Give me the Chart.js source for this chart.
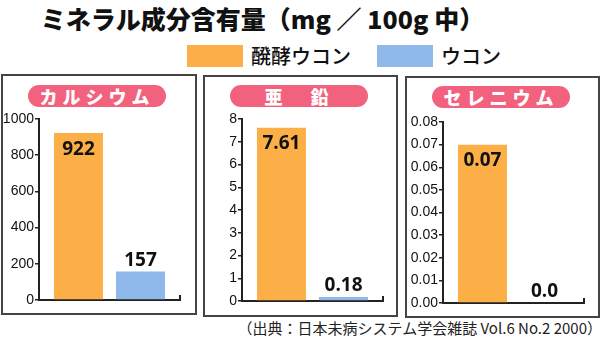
<!DOCTYPE html>
<html>
<head>
<meta charset="utf-8">
<script src="https://cdn.jsdelivr.net/npm/chart.js@4"></script>
<style>
  body { margin: 0; width: 600px; height: 344px; background: #fff; position: relative; overflow: hidden;
         font-family: "Noto Sans CJK JP", sans-serif; }
  .abs { position: absolute; }
  #title { left: 0; width: 525px; top: 1px; text-align: center; font-size: 25px; font-weight: 900; color: #111; line-height: 34px; }
  .swatch { top: 45px; width: 56px; height: 22px; }
  .legtext { top: 42px; font-size: 20px; line-height: 28px; color: #111; font-weight: 500; }
  .panel { border: 2px solid #444; box-sizing: border-box; }
  .pill { background: #F2627E; color: #fff; border-radius: 11px; height: 22px; line-height: 22px; text-align: center;
          font-size: 18px; font-weight: 900; letter-spacing: 5px; }
  #note { right: -2px; top: 317px; font-size: 15px; line-height: 22px; color: #222; }
</style>
</head>
<body>
<div id="title" class="abs">ミネラル成分含有量（mg ／ 100g 中）</div>

<div class="abs swatch" style="left:187px;background:#FCAF46"></div>
<div class="abs legtext" style="left:251px">醗酵ウコン</div>
<div class="abs swatch" style="left:377px;background:#8EB9EA"></div>
<div class="abs legtext" style="left:441px">ウコン</div>

<div id="panels"></div>

<div id="note" class="abs">（出典：日本未病システム学会雑誌 Vol.6 No.2 2000）</div>

<script>
// data
var minerals = ['カルシウム', '亜　鉛', 'セレニウム'];
var seriesNames = ['醗酵ウコン', 'ウコン'];
var fermented = [922, 7.61, 0.07];
var turmeric = [157, 0.18, 0.0];
var fermentedLabels = ['922', '7.61', '0.07'];
var turmericLabels = ['157', '0.18', '0.0'];
var yMax = [1000, 8, 0.08];
var yStep = [200, 1, 0.01];
var yDecimals = [0, 0, 2];

// layout of each panel (page pixels)
var panelBox = [[1, 74, 196, 241], [203, 75, 195, 242], [405, 76, 195, 242]];
var pillBox = [[28, 85, 138], [230, 85, 138], [432, 86, 138]];
var axisX = [39, 242, 443];
var topY = [119, 119, 122];
var zeroY = [300, 301, 303];
var axisEnd = [180, 383, 584];

var ORANGE = '#FCAF46', BLUE = '#8EB9EA', INK = '#222';

// value labels + small end tick on the x axis
var valueLabels = {
  id: 'valueLabels',
  afterDatasetsDraw: function(chart) {
    var c = chart.ctx, i = chart.options.panelIndex;
    c.save();
    c.font = 'bold 19px "Open Sans", sans-serif';
    c.fillStyle = '#111';
    c.textAlign = 'center';
    c.textBaseline = 'middle';
    var b0 = chart.getDatasetMeta(0).data[0];
    var b1 = chart.getDatasetMeta(1).data[0];
    c.fillText(fermentedLabels[i], b0.x, b0.y + 16);
    c.fillText(turmericLabels[i], b1.x, b1.y - 11);
    var a = chart.chartArea;
    c.strokeStyle = INK;
    c.lineWidth = 2;
    c.beginPath();
    c.moveTo(a.right, a.bottom + 1);
    c.lineTo(a.right, a.bottom - 5);
    c.stroke();
    c.restore();
  }
};

var holder = document.getElementById('panels');

minerals.forEach(function(name, i) {
  var p = panelBox[i];
  var panel = document.createElement('div');
  panel.className = 'abs panel';
  panel.style.cssText = 'left:' + p[0] + 'px;top:' + p[1] + 'px;width:' + p[2] + 'px;height:' + p[3] + 'px';
  holder.appendChild(panel);

  var q = pillBox[i];
  var pill = document.createElement('div');
  pill.className = 'abs pill';
  pill.style.cssText = 'left:' + q[0] + 'px;top:' + q[1] + 'px;width:' + q[2] + 'px';
  pill.textContent = name;
  holder.appendChild(pill);

  var left = axisX[i] - 40, top = topY[i] - 14;
  var w = axisEnd[i] + 3 - left, h = zeroY[i] + 10 - top;
  var canvas = document.createElement('canvas');
  canvas.className = 'abs';
  canvas.style.cssText = 'left:' + left + 'px;top:' + top + 'px;width:' + w + 'px;height:' + h + 'px';
  canvas.width = w; canvas.height = h;
  holder.appendChild(canvas);

  new Chart(canvas.getContext('2d'), {
    type: 'bar',
    data: {
      labels: [''],
      datasets: [
        { label: seriesNames[0], data: [fermented[i]], backgroundColor: ORANGE },
        { label: seriesNames[1], data: [turmeric[i]], backgroundColor: BLUE }
      ]
    },
    plugins: [valueLabels],
    options: {
      panelIndex: i,
      responsive: false,
      animation: false,
      layout: { padding: { top: 14, right: 3, left: 0, bottom: 0 } },
      categoryPercentage: 0.88,
      barPercentage: 0.79,
      plugins: { legend: { display: false }, tooltip: { enabled: false } },
      scales: {
        x: {
          grid: { display: false },
          ticks: { display: false },
          border: { display: true, color: INK, width: 2 },
          afterFit: function(s) { s.height = 10; }
        },
        y: {
          min: 0,
          max: yMax[i],
          grid: { drawOnChartArea: false, drawTicks: true, tickLength: 4, color: INK, lineWidth: 1.5 },
          border: { display: true, color: INK, width: 2 },
          ticks: {
            stepSize: yStep[i],
            padding: 1,
            color: '#111',
            font: { family: '"Liberation Sans Narrow", "Liberation Sans", sans-serif', size: 14 },
            callback: function(v) { return Number(v).toFixed(yDecimals[i]); }
          },
          afterFit: function(s) { s.width = 40; }
        }
      }
    }
  });
});
</script>
</body>
</html>
